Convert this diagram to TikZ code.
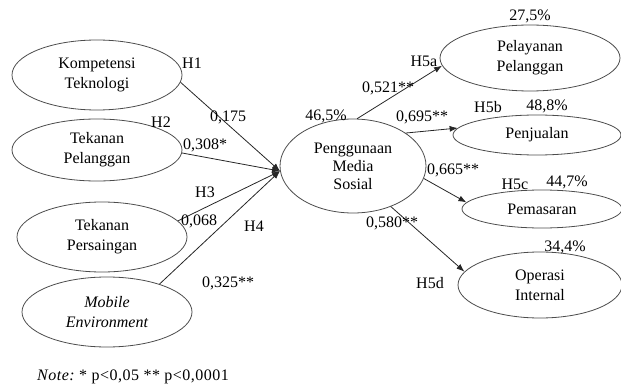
\documentclass[tikz,border=0pt]{standalone}
\usepackage{fontspec}
\setmainfont{Liberation Serif}
\usetikzlibrary{shapes.geometric,arrows.meta}
\begin{document}
\begin{tikzpicture}[x=1pt,y=-1pt,
  every node/.style={font=\fontsize{16}{20}\selectfont},
  ell/.style={ellipse,draw=black!70,line width=0.8pt,inner sep=0pt,align=center},
  arr/.style={draw=black!85,line width=0.8pt,-{Latex[length=8pt,width=6pt]}},
  lbl/.style={inner sep=0pt}]
\useasboundingbox (0,0) rectangle (621,385);
% left ellipses
\node[ell,minimum width=170pt,minimum height=70pt] (kt) at (97,75) {Kompetensi\\Teknologi};
\node[ell,minimum width=170pt,minimum height=62pt] (tp) at (97,150) {Tekanan\\Pelanggan};
\node[ell,minimum width=170pt,minimum height=70pt] (ts) at (102,237) {Tekanan\\Persaingan};
\node[ell,minimum width=170pt,minimum height=70pt] (me) at (107,312) {\itshape Mobile\\\itshape Environment};
% centre
\node[ell,minimum width=146pt,minimum height=94pt,font=\fontsize{16}{18}\selectfont] (pms) at (353,166) {Penggunaan\\Media\\Sosial};
% right ellipses
\node[ell,minimum width=180pt,minimum height=66pt] (pp) at (530,58) {Pelayanan\\Pelanggan};
\node[ell,minimum width=168pt,minimum height=40pt] (pj) at (537,135) {Penjualan};
\node[ell,minimum width=160pt,minimum height=38pt] (pm) at (542,209) {Pemasaran};
\node[ell,minimum width=164pt,minimum height=66pt] (oi) at (540,285) {Operasi\\Internal};
% arrows
\draw[arr] (kt.-5) -- (pms.184);
\draw[arr] (tp.-2) -- (pms.184);
\draw[arr] (ts.12) -- (pms.184);
\draw[arr] (me.28) -- (pms.184);
\draw[arr] (pms.85) -- (pp.185);
\draw[arr] (pms.32) -- (pj.175);
\draw[arr] (pms.-10) -- (pm.175);
\draw[arr] (pms.-47) -- (oi.170);
% labels
\node[lbl] (h1) at (192,63) {H1};
\node[lbl] (c1) at (228,117) {0,175};
\node[lbl] (h2) at (161,122) {H2};
\node[lbl] (c2) at (205,145) {0,308*};
\node[lbl] (h3) at (205,192) {H3};
\node[lbl] (c3) at (199,221) {0,068};
\node[lbl] (h4) at (254,226) {H4};
\node[lbl] (c4) at (228,283) {0,325**};
\node[lbl] (r0) at (326,116) {46,5\%};
\node[lbl] (c5a) at (388,88) {0,521**};
\node[lbl] (h5a) at (424,61) {H5a};
\node[lbl] (r1) at (530,16) {27,5\%};
\node[lbl] (h5b) at (488,107) {H5b};
\node[lbl] (r2) at (547,106) {48,8\%};
\node[lbl] (c5b) at (422,117) {0,695**};
\node[lbl] (c5c) at (453,170) {0,665**};
\node[lbl] (h5c) at (515,184) {H5c};
\node[lbl] (r3) at (567,182) {44,7\%};
\node[lbl] (c5d) at (392,223) {0,580**};
\node[lbl] (r4) at (565,247) {34,4\%};
\node[lbl] (h5d) at (430,283) {H5d};
\node[lbl,anchor=west] (note) at (37,377) {\addfontfeature{LetterSpace=3}\itshape Note:\upshape{}\ * p<0,05 ** p<0,0001};
\end{tikzpicture}
\end{document}
